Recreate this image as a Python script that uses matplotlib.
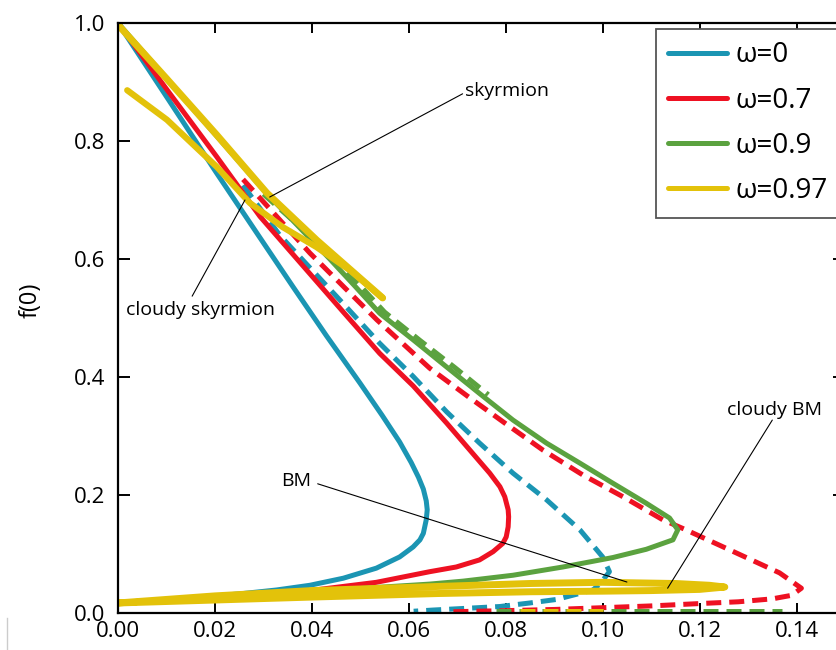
import matplotlib
matplotlib.use("Agg")
import matplotlib.pyplot as plt
from matplotlib.lines import Line2D

plt.rcParams['font.family'] = ['Open Sans', 'DejaVu Sans']

BLUE = "#1b95b3"
RED = "#ee1122"
GREEN = "#5ba23f"
YELLOW = "#e3c20a"

omega_labels = ["ω=0", "ω=0.7", "ω=0.9", "ω=0.97"]

# skyrmion -> BM branches (solid)
w0_x = [0.0, 0.0101, 0.0204, 0.0293, 0.0361, 0.043, 0.0499, 0.0545, 0.0581, 0.0605,
        0.062, 0.063, 0.0636, 0.0638, 0.0636, 0.063, 0.0623, 0.0609,
        0.0581, 0.0533, 0.0465, 0.0396, 0.0327, 0.0258, 0.019, 0.0121, 0.0]
w0_y = [1.0, 0.874, 0.745, 0.636, 0.553, 0.47, 0.39, 0.335, 0.29, 0.255,
        0.23, 0.21, 0.19, 0.175, 0.158, 0.135, 0.124, 0.112,
        0.095, 0.076, 0.059, 0.047, 0.039, 0.033, 0.028, 0.023, 0.017]

w07_x = [0.0, 0.0101, 0.0204, 0.0293, 0.038, 0.0465, 0.054, 0.0609, 0.0678, 0.0746,
         0.0767, 0.0788, 0.0798, 0.0805, 0.0806, 0.0805, 0.0801, 0.0794, 0.0774,
         0.0746, 0.0698, 0.0643, 0.0533, 0.0396, 0.0258, 0.0121, 0.0]
w07_y = [1.0, 0.887, 0.773, 0.672, 0.59, 0.51, 0.44, 0.385, 0.322, 0.257,
         0.237, 0.214, 0.197, 0.175, 0.163, 0.146, 0.129, 0.118, 0.104,
         0.09, 0.078, 0.07, 0.052, 0.038, 0.029, 0.022, 0.017]

w09_x = [0.0, 0.0101, 0.0204, 0.0307, 0.0437, 0.049, 0.054, 0.0609, 0.0678, 0.0746,
         0.0815, 0.0884, 0.0953, 0.1021, 0.109, 0.1138, 0.1155, 0.1145, 0.109,
         0.1021, 0.0918, 0.0815, 0.0712, 0.0643, 0.045, 0.025, 0.0]
w09_y = [1.0, 0.905, 0.808, 0.711, 0.60, 0.553, 0.508, 0.463, 0.417, 0.372,
         0.327, 0.288, 0.254, 0.22, 0.186, 0.161, 0.141, 0.124, 0.108,
         0.094, 0.078, 0.064, 0.054, 0.049, 0.039, 0.029, 0.017]

w097_x = [0.0, 0.0101, 0.0204, 0.0307, 0.041, 0.0546]
w097_y = [0.997, 0.905, 0.81, 0.712, 0.632, 0.534]
w097b_x = [0.0019, 0.0101, 0.0204, 0.0272, 0.034, 0.041, 0.048, 0.0546]
w097b_y = [0.886, 0.836, 0.756, 0.695, 0.654, 0.62, 0.58, 0.534]
w097c_x = [0.0, 0.02, 0.04, 0.066, 0.085, 0.10, 0.115, 0.122, 0.1252,
           0.12, 0.11, 0.10, 0.085, 0.066, 0.04, 0.02, 0.0]
w097c_y = [0.017, 0.029, 0.038, 0.045, 0.05, 0.052, 0.05, 0.047, 0.044,
           0.04, 0.038, 0.037, 0.036, 0.033, 0.027, 0.022, 0.017]

# cloudy branches (dashed)
w0d_x = [0.0258, 0.0334, 0.0464, 0.054, 0.0609, 0.0678, 0.0746, 0.0815, 0.0884, 0.0953,
         0.1, 0.1014, 0.0995, 0.098, 0.0905, 0.085, 0.0788, 0.072, 0.065, 0.061]
w0d_y = [0.725, 0.64, 0.525, 0.457, 0.401, 0.341, 0.288, 0.237, 0.192, 0.141,
         0.095, 0.07, 0.05, 0.039, 0.023, 0.017, 0.011, 0.008, 0.005, 0.003]

w07d_x = [0.0258, 0.0396, 0.0534, 0.0643, 0.0722, 0.0798, 0.0877, 0.0959, 0.1042, 0.1124,
          0.1169, 0.1262, 0.1365, 0.141, 0.139, 0.135, 0.128, 0.12, 0.11, 0.10,
          0.09, 0.08, 0.068]
w07d_y = [0.735, 0.61, 0.497, 0.415, 0.367, 0.322, 0.276, 0.234, 0.197, 0.158,
          0.142, 0.107, 0.068, 0.042, 0.03, 0.024, 0.019, 0.016, 0.012, 0.009,
          0.006, 0.004, 0.002]

w09d_x = [0.030, 0.0443, 0.055, 0.0623, 0.0695, 0.0764]
w09d_y = [0.71, 0.605, 0.51, 0.462, 0.416, 0.37]
w09e_x = [0.078, 0.137]
w09e_y = [0.004, 0.004]

w097d_x = [0.083, 0.100]
w097d_y = [0.003, 0.003]

fig = plt.figure(figsize=(8.37, 6.5), dpi=100)
ax = fig.add_axes([118 / 837, 37 / 650, 727 / 837, 590 / 650])

dash = (0, (3.0, 1.6))
lw = 3.6
ax.plot(w0d_x, w0d_y, color=BLUE, lw=lw, linestyle=dash)
ax.plot(w07d_x, w07d_y, color=RED, lw=lw, linestyle=dash)
ax.plot(w09d_x, w09d_y, color=GREEN, lw=lw, linestyle=dash)
ax.plot(w09e_x, w09e_y, color=GREEN, lw=lw, linestyle=dash)
ax.plot(w097d_x, w097d_y, color=YELLOW, lw=lw, linestyle=dash)

kw = dict(solid_capstyle='round', solid_joinstyle='round')
ax.plot(w0_x, w0_y, color=BLUE, lw=lw, **kw)
ax.plot(w07_x, w07_y, color=RED, lw=lw, **kw)
ax.plot(w09_x, w09_y, color=GREEN, lw=lw, **kw)
ax.plot(w097_x, w097_y, color=YELLOW, lw=5, **kw)
ax.plot(w097b_x, w097b_y, color=YELLOW, lw=4.5, **kw)
ax.plot(w097c_x, w097c_y, color=YELLOW, lw=5, **kw)

ax.set_xlim(0, 0.15)
ax.set_ylim(0, 1.0)
ax.set_xticks([0.0, 0.02, 0.04, 0.06, 0.08, 0.10, 0.12, 0.14])
ax.set_xticklabels(["0.00", "0.02", "0.04", "0.06", "0.08", "0.10", "0.12", "0.14"])
ax.set_yticks([0.0, 0.2, 0.4, 0.6, 0.8, 1.0])
ax.set_yticklabels(["0.0", "0.2", "0.4", "0.6", "0.8", "1.0"])
ax.tick_params(direction='in', top=True, right=True, labelsize=16, width=1.4, color='black')
ax.tick_params(axis='y', length=8.5, pad=9)
ax.tick_params(axis='x', length=7.5, pad=6)
for s in ax.spines.values():
    s.set_linewidth(1.6)

ax.set_ylabel("f(0)", fontsize=17)
ax.yaxis.set_label_coords(-0.103, 0.53)

# leader lines and labels
line_kw = dict(arrowprops=dict(arrowstyle='-', lw=0.8, color='black',
                               shrinkA=0, shrinkB=0))
ax.annotate('', xy=(0.0313, 0.705), xytext=(0.0711, 0.88), **line_kw)
ax.text(0.0715, 0.884, "skyrmion", fontsize=14, ha='left', va='center')
ax.annotate('', xy=(0.0262, 0.70), xytext=(0.0153, 0.537), **line_kw)
ax.text(0.0171, 0.514, "cloudy skyrmion", fontsize=14, ha='center', va='center')
ax.annotate('', xy=(0.105, 0.0525), xytext=(0.0412, 0.219), **line_kw)
ax.text(0.0398, 0.224, "BM", fontsize=14, ha='right', va='center')
ax.annotate('', xy=(0.1134, 0.042), xytext=(0.135, 0.327), **line_kw)
ax.text(0.1355, 0.344, "cloudy BM", fontsize=14, ha='center', va='center')

handles = [Line2D([], [], color=c, lw=lw, solid_capstyle='round')
           for c in (BLUE, RED, GREEN, YELLOW)]
leg = ax.legend(handles, omega_labels, loc='upper left',
                bbox_to_anchor=(656 / 837, 1 - 29 / 650), bbox_transform=fig.transFigure,
                borderaxespad=0, fontsize=20, handlelength=2.1, handletextpad=0.3,
                labelspacing=0.62, borderpad=0.45, fancybox=False, framealpha=1)
leg.get_frame().set_edgecolor('#555555')
leg.get_frame().set_linewidth(1.3)

fig.add_artist(Line2D([7 / 837, 7 / 837], [0, 32 / 650], color='#cccccc', lw=1))

fig.savefig("out.png", dpi=100)
